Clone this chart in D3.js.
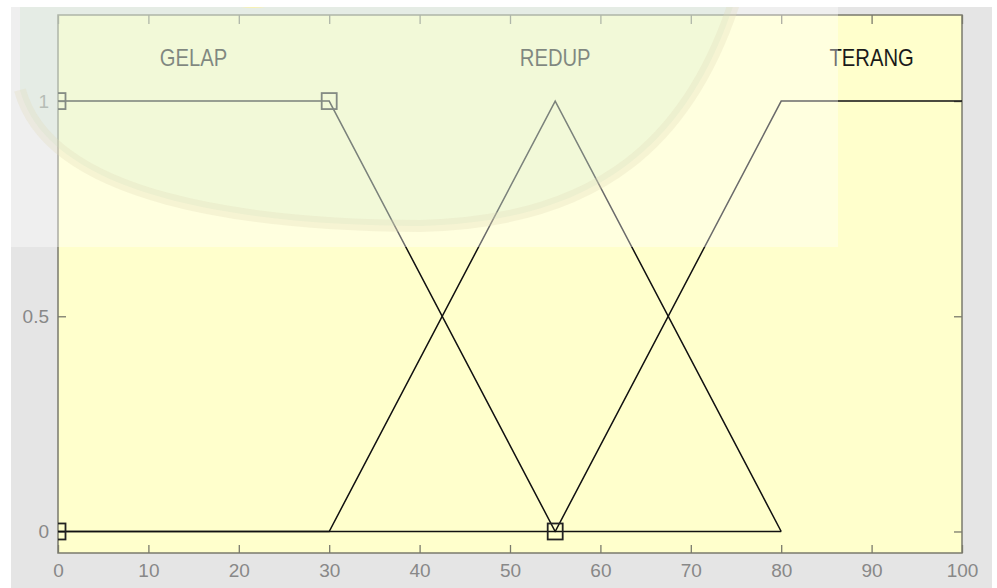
<!DOCTYPE html>
<html>
<head>
<meta charset="utf-8">
<script src="https://cdn.jsdelivr.net/npm/d3@7"></script>
<style>
  html, body { margin: 0; padding: 0; background: #fff; }
  svg { display: block; }
</style>
</head>
<body>
<svg id="chart" width="997" height="588"></svg>
<script>
// membership functions (x = input, y = degree)
const mfNames = ["GELAP", "REDUP", "TERANG"];
const gelapPts = [[0, 1], [30, 1], [55, 0], [80, 0]];
const redupPts = [[0, 0], [30, 0], [55, 1], [80, 0]];
const terangPts = [[0, 0], [55, 0], [80, 1], [100, 1]];
// selected mf handles (GELAP)
const handlePts = [[0, 0], [0, 1], [30, 1], [55, 0]];

const xTicks = [0, 10, 20, 30, 40, 50, 60, 70, 80, 90, 100];
const yTicks = [0, 0.5, 1];
const yTickLabels = ["0", "0.5", "1"];

const W = 997, H = 588;
const plot = { left: 58, right: 962, top: 15, bottom: 553 };

const svg = d3.select("#chart");

const x = d3.scaleLinear().domain([0, 100]).range([plot.left, plot.right]);
const y = d3.scaleLinear().domain([-0.05, 1.2]).range([plot.bottom, plot.top]);

// figure background (screenshot has a thin white border top/left/right)
svg.append("rect").attr("x", 0).attr("y", 0).attr("width", W).attr("height", H).attr("fill", "#fff");
svg.append("rect").attr("x", 11).attr("y", 7).attr("width", 981).attr("height", H - 7).attr("fill", "#e5e5e5");

// axes area
svg.append("rect")
  .attr("x", plot.left).attr("y", plot.top)
  .attr("width", plot.right - plot.left).attr("height", plot.bottom - plot.top)
  .attr("fill", "#ffffcc");

svg.append("clipPath").attr("id", "axclip")
  .append("rect")
  .attr("x", plot.left).attr("y", plot.top)
  .attr("width", plot.right - plot.left).attr("height", plot.bottom - plot.top);

const tickColor = "#7a7a6c";
const labelColor = "#888";

// ticks inside box, both sides
const gx = svg.append("g").attr("transform", `translate(0,${plot.bottom})`)
  .call(d3.axisBottom(x).tickValues(xTicks).tickSizeInner(-8).tickSizeOuter(0).tickPadding(19));
const gxTop = svg.append("g").attr("transform", `translate(0,${plot.top})`)
  .call(d3.axisTop(x).tickValues(xTicks).tickSizeInner(-9).tickSizeOuter(0).tickFormat(""));
const gy = svg.append("g").attr("transform", `translate(${plot.left},0)`)
  .call(d3.axisLeft(y).tickValues(yTicks).tickSizeInner(-8).tickSizeOuter(0).tickPadding(9)
    .tickFormat((d, i) => yTickLabels[i]));
const gyRight = svg.append("g").attr("transform", `translate(${plot.right},0)`)
  .call(d3.axisRight(y).tickValues(yTicks).tickSizeInner(-8).tickSizeOuter(0).tickFormat(""));

[gx, gxTop, gy, gyRight].forEach(g => {
  g.select(".domain").remove();
  g.selectAll(".tick line").attr("stroke", tickColor).attr("stroke-width", 1.3);
  g.selectAll(".tick text")
    .attr("fill", labelColor)
    .attr("font-family", "'Liberation Sans', Arial, sans-serif")
    .attr("font-size", 19);
});
gx.selectAll(".tick text").attr("dy", "0.25em");

// box
svg.append("rect")
  .attr("x", plot.left).attr("y", plot.top)
  .attr("width", plot.right - plot.left).attr("height", plot.bottom - plot.top)
  .attr("fill", "none").attr("stroke", tickColor).attr("stroke-width", 1.5);

// mf curves
const line = d3.line().x(d => x(d[0])).y(d => y(d[1]));
const mfs = [gelapPts, redupPts, terangPts];

const curves = svg.append("g").attr("clip-path", "url(#axclip)");
curves.selectAll("path.mf")
  .data(mfs)
  .enter().append("path")
  .attr("class", "mf")
  .attr("d", line)
  .attr("fill", "none")
  .attr("stroke", "#111")
  .attr("stroke-width", 1.5);

curves.selectAll("rect.handle")
  .data(handlePts)
  .enter().append("rect")
  .attr("class", "handle")
  .attr("x", d => x(d[0]) - 7.5)
  .attr("y", d => y(d[1]) - 8)
  .attr("width", 15).attr("height", 16)
  .attr("fill", "none")
  .attr("stroke", "#222")
  .attr("stroke-width", 1.8);

// mf names centred over plateau, slightly condensed like the matlab font
svg.selectAll("text.mfname")
  .data(mfs)
  .enter().append("text")
  .attr("class", "mfname")
  .attr("transform", d => `translate(${x(d3.mean(d.filter(p => p[1] === 1), p => p[0]))},${y(1.1)}) scale(0.88,1)`)
  .attr("dy", "0.35em")
  .attr("text-anchor", "middle")
  .attr("font-family", "'Liberation Sans', Arial, sans-serif")
  .attr("font-size", 23)
  .attr("fill", "#1a1a1a")
  .text((d, i) => mfNames[i]);

// faint watermark overlay from the scanned page
const wm = svg.append("g");
wm.append("clipPath").attr("id", "wmclip")
  .append("rect").attr("x", 11).attr("y", 7).attr("width", 827).attr("height", 240);
wm.append("rect").attr("x", 0).attr("y", 0).attr("width", W).attr("height", 7).attr("fill", "#fff");
const wmg = wm.append("g").attr("clip-path", "url(#wmclip)");
wmg.append("rect").attr("x", 11).attr("y", 7).attr("width", 827).attr("height", 240)
  .attr("fill", "#fff").attr("opacity", 0.38);
wmg.append("path")
  .attr("d", "M20,0 L20,90 C50,200 250,225 420,226 C600,222 690,140 735,0 Z")
  .attr("fill", "#bfe0bf").attr("opacity", 0.2);
wmg.append("path")
  .attr("d", "M20,90 C50,200 250,225 420,226 C600,222 690,140 735,0")
  .attr("fill", "none").attr("stroke", "#e0dcb8").attr("stroke-width", 12).attr("opacity", 0.3);
wmg.append("ellipse").attr("cx", 253).attr("cy", 2).attr("rx", 22).attr("ry", 6)
  .attr("fill", "#fff3a0").attr("opacity", 0.7);
</script>
</body>
</html>
